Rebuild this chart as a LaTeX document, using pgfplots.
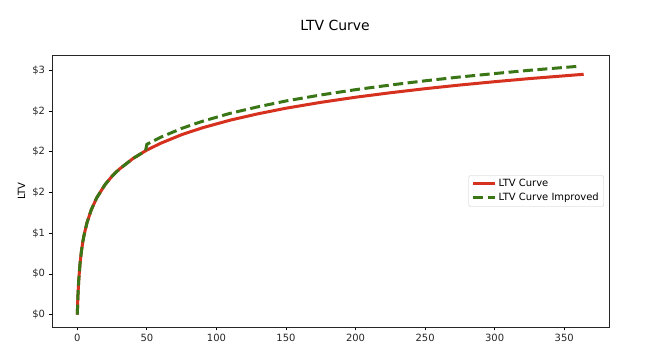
\documentclass[border=0pt]{standalone}
\usepackage{fontspec}
\setmainfont{DejaVu Sans}
\usepackage{pgfplots}
\pgfplotsset{compat=1.18}
\definecolor{ltvred}{RGB}{214,48,30}
\definecolor{ltvgreen}{RGB}{58,118,22}
\begin{document}
\begin{tikzpicture}
\path[use as bounding box] (0,0) rectangle (670bp,360bp);
\node[font=\fontsize{14}{16}\selectfont] at (335bp,335bp) {LTV Curve};
\begin{axis}[
  at={(52bp,33bp)}, anchor=south west,
  scale only axis, width=557bp, height=272bp,
  xmin=-18.2, xmax=382.2, ymin=-0.152, ymax=3.19,
  xtick={0,50,100,150,200,250,300,350},
  ytick={0,0.5,1,1.5,2,2.5,3},
  yticklabels={\$0,\$0,\$1,\$2,\$2,\$2,\$3},
  tick align=outside, major tick length=3.5bp,
  xtick pos=bottom, ytick pos=left,
  tick style={black, line width=0.8bp},
  axis line style={line width=0.8bp, black!85},
  ticklabel style={font=\fontsize{10}{12}\selectfont, text=black!85},
  /pgf/number format/assume math mode=true,
  ylabel={LTV},
  ylabel style={font=\fontsize{10}{12}\selectfont, at={(axis description cs:-0.055,0.5)}, anchor=center},
  legend style={at={(0.991,0.5)}, anchor=east, font=\fontsize{10}{12}\selectfont,
    draw=black!20, rounded corners=2bp, inner xsep=3bp, inner ysep=2bp, row sep=1bp},
  legend cell align=left,
  legend image code/.code={\draw[#1] (0bp,0bp) -- (22bp,0bp);},
]
\addplot[ltvred, line width=3bp, no markers] coordinates {
(0,0) (0.25,0.144) (0.5,0.254) (1,0.419) (2,0.637) (3,0.786) (4,0.899) (5,0.990)
(7,1.132) (10,1.287) (14,1.437) (20,1.599) (25,1.701) (30,1.785) (40,1.918)
(49,2.012) (50,2.022) (60,2.106) (75,2.211) (90,2.296) (110,2.390) (130,2.468)
(150,2.536) (175,2.608) (200,2.671) (225,2.726) (250,2.776) (275,2.821)
(300,2.862) (325,2.900) (350,2.934) (364,2.953)
};
\addlegendentry{LTV Curve}
\addplot[ltvgreen, line width=3bp, no markers, dash pattern=on 10bp off 4.5bp] coordinates {
(0,0) (0.25,0.144) (0.5,0.254) (1,0.419) (2,0.637) (3,0.786) (4,0.899) (5,0.990)
(7,1.132) (10,1.287) (14,1.437) (20,1.599) (25,1.701) (30,1.785) (40,1.918)
(49,2.012) (50,2.093) (60,2.180) (75,2.288) (90,2.376) (110,2.474) (130,2.554)
(150,2.625) (175,2.699) (200,2.764) (225,2.821) (250,2.873) (275,2.920)
(300,2.962) (325,3.002) (350,3.037) (360,3.051)
};
\addlegendentry{LTV Curve Improved}
\end{axis}
\end{tikzpicture}
\end{document}
